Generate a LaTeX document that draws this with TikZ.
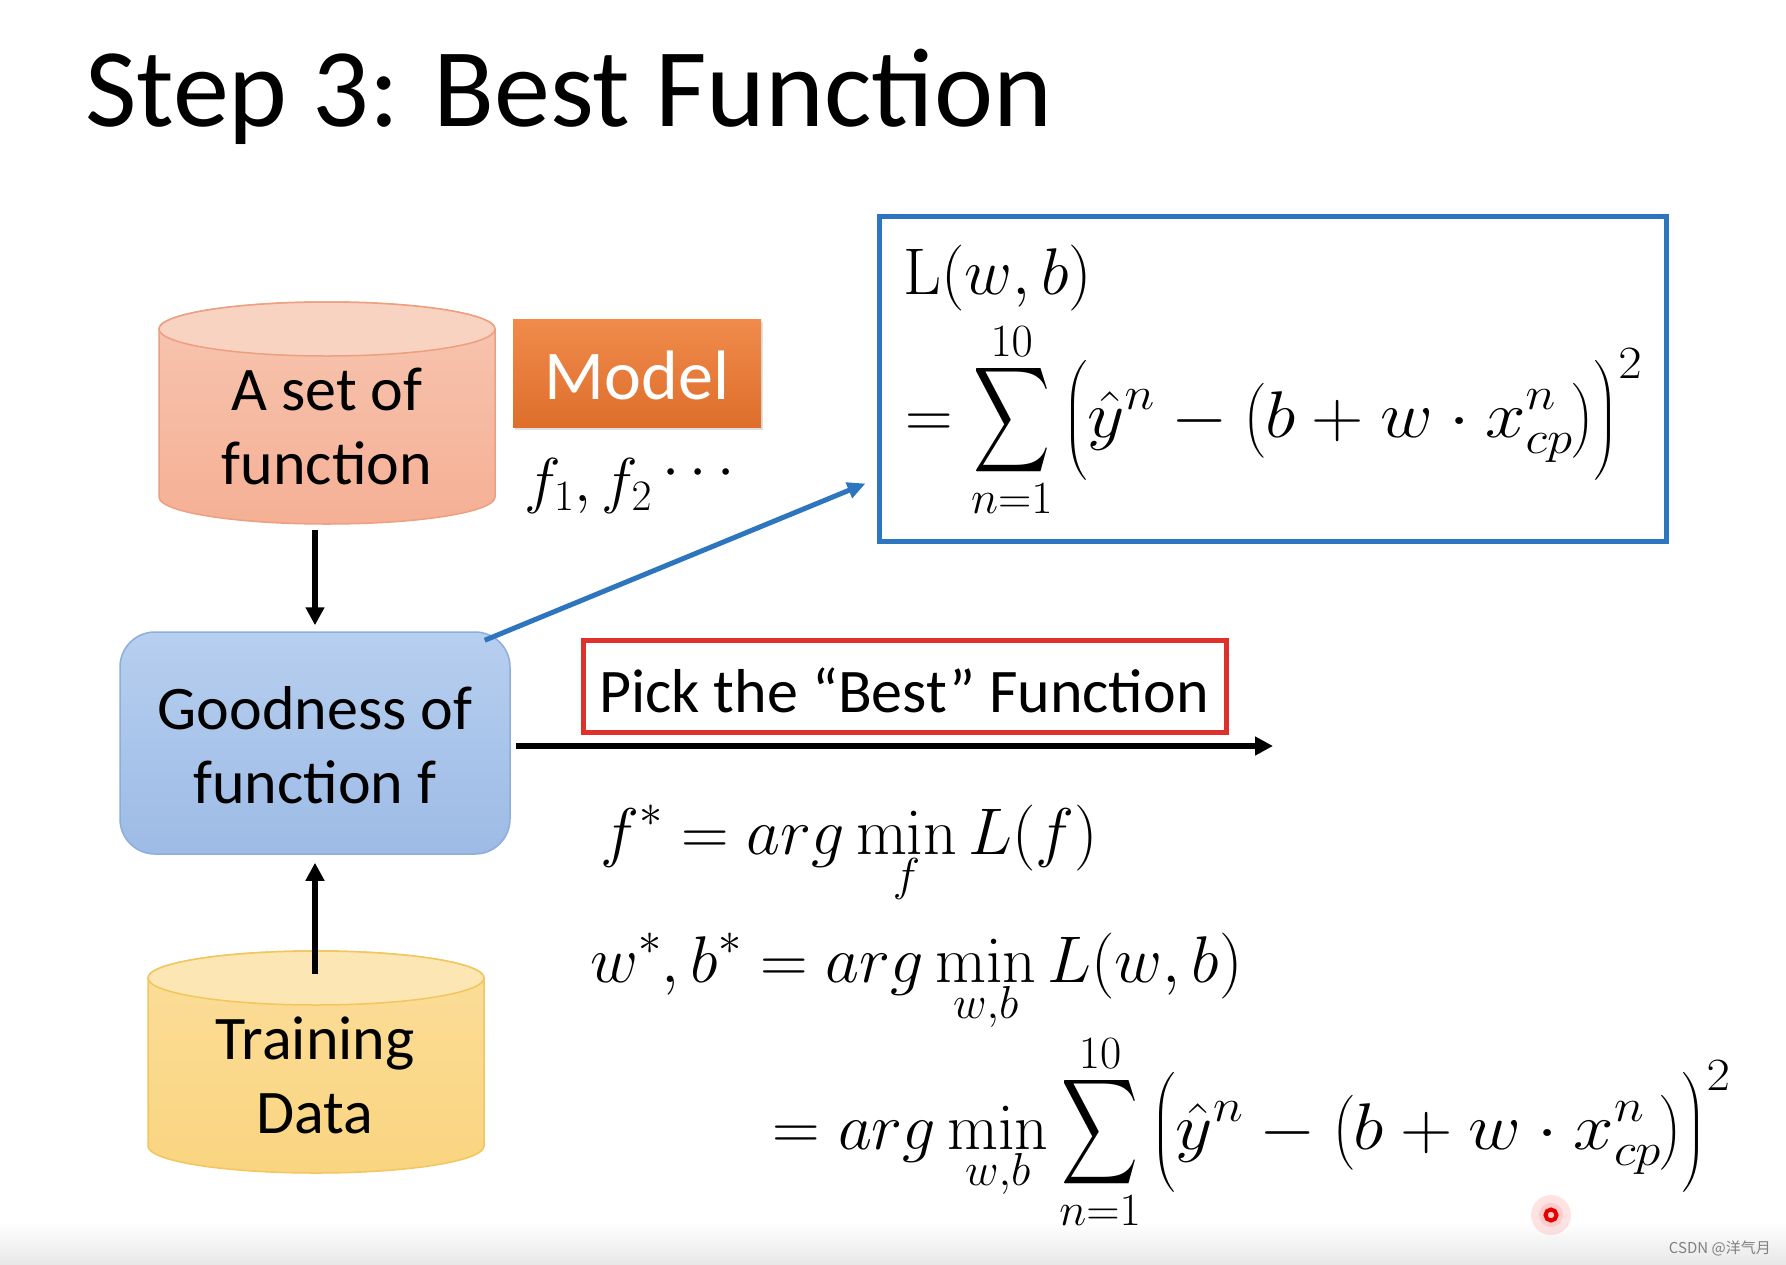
\RequirePackage{fix-cm}
\documentclass[tikz,border=0pt]{standalone}
\usepackage[no-math]{fontspec}
\usepackage{amsmath}
\usepackage{graphicx}
\usetikzlibrary{arrows.meta,calc,shadows}
\newfontfamily\calibri{Carlito}
\newfontfamily\cjkfont{Noto Sans CJK SC}
\newcommand{\bigsum}{\mathop{\vcenter{\hbox{\resizebox*{77pt}{118pt}{$\displaystyle\sum$}}}}\limits}
\newcommand{\sqterm}{\scalebox{1.1}[1]{$\displaystyle\Big(\hat{y}^{n} - \big(b + w\cdot x_{cp}^{n}\big)\Big)^{2}$}}
\definecolor{salbody}{HTML}{F5B095}
\definecolor{saltop}{HTML}{F9D3C2}
\definecolor{salline}{HTML}{EE9F80}
\definecolor{goldbody}{HTML}{FAD580}
\definecolor{goldtop}{HTML}{FCE6B4}
\definecolor{goldline}{HTML}{F2C65C}
\definecolor{modeltop}{HTML}{F08B4B}
\definecolor{modelbot}{HTML}{DE6E2C}
\definecolor{goodtop}{HTML}{B7CFEF}
\definecolor{goodbot}{HTML}{9DBBE6}
\definecolor{goodline}{HTML}{8DAEDC}
\definecolor{lossblue}{HTML}{2E75BF}
\definecolor{pickred}{HTML}{E0302B}
\begin{document}
\begin{tikzpicture}[x=1pt,y=-1pt,
  txt/.style={font=\calibri\fontsize{62}{74}\selectfont, inner sep=0pt, anchor=base},
  mth/.style={font=\fontsize{66}{79}\selectfont, inner sep=0pt, anchor=base west},
  flow/.style={line width=5.5pt, -{Triangle[length=18pt,width=18pt]}},
  bflow/.style={line width=5pt, draw=lossblue, -{Triangle[length=18pt,width=16pt]}},
  area/.style={inner sep=0pt, minimum width=336pt, minimum height=222pt},
]
\useasboundingbox (0,0) rectangle (1786,1264);
\fill[white] (0,0) rectangle (1786,1264);
\shade[top color=white, bottom color=black!9] (0,1222) rectangle (1786,1264);

% title
\node[anchor=base west, inner sep=0pt, font=\calibri\fontsize{112}{134}\selectfont] (title) at (85,126) {Step 3: Best Function};

% cylinder 1
\shade[top color=saltop!60!salbody, bottom color=salbody, draw=salline, line width=1.5pt]
  (159,329) -- (159,497) arc[start angle=180, end angle=0, x radius=168, y radius=27]
  -- (495,329) arc[start angle=0, end angle=-180, x radius=168, y radius=27] -- cycle;
\filldraw[fill=saltop, draw=salline, line width=1.5pt] (327,329) ellipse[x radius=168, y radius=27];
\node[area] (set1) at (327,413) {};
\node[txt] (set1a) at (327,410) {A set of};
\node[txt] (set1b) at (327,484) {function};

% cylinder 2
\shade[top color=goldtop!50!goldbody, bottom color=goldbody, draw=goldline, line width=1.5pt]
  (148,978) -- (148,1146) arc[start angle=180, end angle=0, x radius=168, y radius=27]
  -- (484,978) arc[start angle=0, end angle=-180, x radius=168, y radius=27] -- cycle;
\filldraw[fill=goldtop, draw=goldline, line width=1.5pt] (316,978) ellipse[x radius=168, y radius=27];
\node[area] (train) at (316,1062) {};
\node[txt] (traina) at (315,1059) {Training};
\node[txt] (trainb) at (315,1133) {Data};

% model
\node[minimum width=248pt, minimum height=108pt, inner sep=0pt,
  top color=modeltop, bottom color=modelbot,
  drop shadow={opacity=0.25, shadow xshift=2pt, shadow yshift=-3pt}] (model) at (637,373) {};
\node[txt, font=\calibri\fontsize{70}{84}\selectfont, text=white] (modelt) at (637,399) {Model};
\node[mth, font=\fontsize{62}{74}\selectfont] (fs) at (524,501) {$f_1, f_2\,\raisebox{14pt}{$\cdots$}$};

% goodness
\node[draw=goodline, line width=1.5pt, rounded corners=35pt, minimum width=390pt,
  minimum height=222pt, inner sep=0pt, top color=goodtop, bottom color=goodbot] (good) at (315,743) {};
\node[txt] (gooda) at (315,729) {Goodness of};
\node[txt] (goodb) at (315,803) {function f};

% loss box
\node[draw=lossblue, line width=5pt, minimum width=787pt, minimum height=325pt, inner sep=0pt] (loss) at (1272.5,378.5) {};
\node[mth] (lossL) at (903,294) {$\mathrm{L}(w,b)$};
\node[mth] (lossS) at (905,437) {$\displaystyle = \bigsum_{n=1}^{10}\sqterm$};

% pick box
\node[draw=pickred, line width=5pt, minimum width=643pt, minimum height=92pt, inner sep=0pt] (pick) at (904.5,686) {};
\node[txt] (pickt) at (904,712) {Pick the “Best” Function};

% equations
\node[mth] (eq1) at (600,854) {$\displaystyle f^{*} = arg\min_{f} L(f)$};
\node[mth] (eq2) at (590,982) {$\displaystyle w^{*}, b^{*} = arg\min_{w,b} L(w,b)$};
\node[mth] (eq3) at (772,1149) {$\displaystyle = arg\min_{w,b}\bigsum_{n=1}^{10}\sqterm$};

% connectors
\coordinate (pe) at (1273,746);
\draw[flow] ($(good.north |- set1.south)+(0,6)$) -- ($(good.north)+(0,-6)$);
\draw[flow] ($(good.south |- train.north)+(0,23)$) -- ($(good.south)+(0,8)$);
\draw[flow] ($(good.east)+(5,3)$) -- (pe);
\draw[bflow] ($(good.north east)+(-26,9)$) -- ($(loss.south west)+(-11,-60)$);

% pointer and watermark
\fill[red!60, opacity=0.18] (1551,1215) circle[radius=20];
\fill[red!50, opacity=0.25] (1551,1215) circle[radius=12];
\draw[red!90!black, line width=4pt] (1551,1215) circle[radius=5.5];
\node[anchor=base east, inner sep=0pt, font=\cjkfont\fontsize{15}{18}\selectfont, text=black!50] (wm) at (1771,1253) {CSDN @洋气月};
\end{tikzpicture}
\end{document}
